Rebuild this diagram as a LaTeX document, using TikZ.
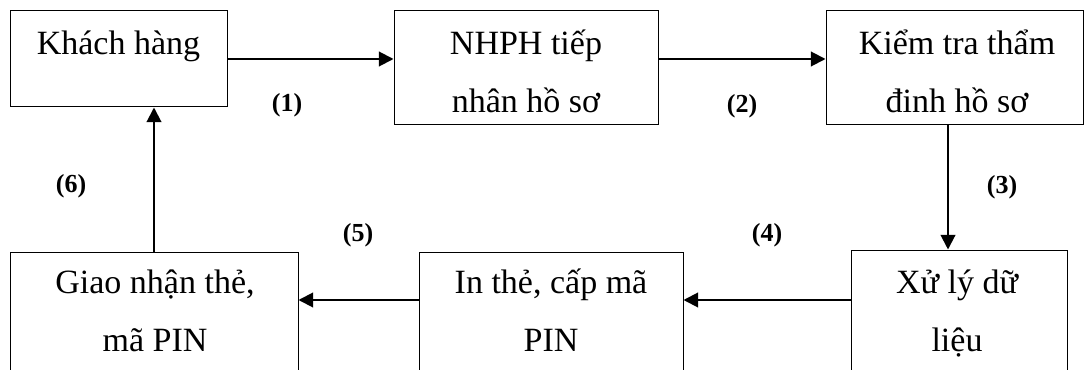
\documentclass[tikz,border=0pt]{standalone}
\usepackage{fontspec}
\setmainfont{Liberation Serif}
\usetikzlibrary{arrows.meta}
\begin{document}
\begin{tikzpicture}[x=0.75pt,y=-0.75pt,
  box/.style={draw,line width=0.75pt,rectangle,inner sep=0pt},
  txt/.style={anchor=base,inner sep=0pt,font=\fontsize{25.5pt}{30pt}\selectfont},
  lbl/.style={inner sep=0pt,font=\fontsize{19.5pt}{23pt}\selectfont\bfseries},
  arr/.style={line width=1.5pt,-{Triangle[length=11pt,width=11pt]}}]
\useasboundingbox (0,0) rectangle (1084,370);
\clip (0,0) rectangle (1084,370);
% boxes
\node[box,minimum width=162.75pt,minimum height=72pt] (A) at (118.5,59) {};
\node[box,minimum width=198pt,minimum height=85.5pt] (B) at (526,68) {};
\node[box,minimum width=192.75pt,minimum height=85.5pt] (C) at (954.5,68) {};
\node[box,minimum width=162pt,minimum height=112.5pt] (D) at (959,325) {};
\node[box,minimum width=198pt,minimum height=112.5pt] (E) at (551,327) {};
\node[box,minimum width=216pt,minimum height=112.5pt] (F) at (154,327) {};
% texts
\node[txt] (tA) at (118.5,55) {Khách hàng};
\node[txt] (tB1) at (526,55) {NHPH tiếp};
\node[txt] (tB2) at (526,113) {nhân hồ sơ};
\node[txt] (tC1) at (957,55) {Kiểm tra thẩm};
\node[txt] (tC2) at (957,113) {đinh hồ sơ};
\node[txt] (tD1) at (957,293) {Xử lý dữ};
\node[txt] (tD2) at (957,351) {liệu};
\node[txt] (tE1) at (551,293) {In thẻ, cấp mã};
\node[txt] (tE2) at (551,351) {PIN};
\node[txt] (tF1) at (155,293) {Giao nhận thẻ,};
\node[txt] (tF2) at (155,351) {mã PIN};
% connectors
\coordinate (y45) at (0,300);
\draw[arr] (A.east) -- (A.east -| B.west);
\draw[arr] (A.east -| B.east) -- (A.east -| C.west);
\draw[arr] ([xshift=-4.875pt]C.south) -- ([xshift=-4.875pt]C.south |- D.north);
\draw[arr] (D.west |- y45) -- (E.east |- y45);
\draw[arr] (E.west |- y45) -- (F.east |- y45);
\draw[arr] (F.north) -- (F.north |- A.south);
% labels
\node[lbl] (l1) at (287,105) {(1)};
\node[lbl] (l2) at (742,106) {(2)};
\node[lbl] (l3) at (1002,187) {(3)};
\node[lbl] (l4) at (767,235) {(4)};
\node[lbl] (l5) at (358,235) {(5)};
\node[lbl] (l6) at (71,186) {(6)};
\end{tikzpicture}
\end{document}
